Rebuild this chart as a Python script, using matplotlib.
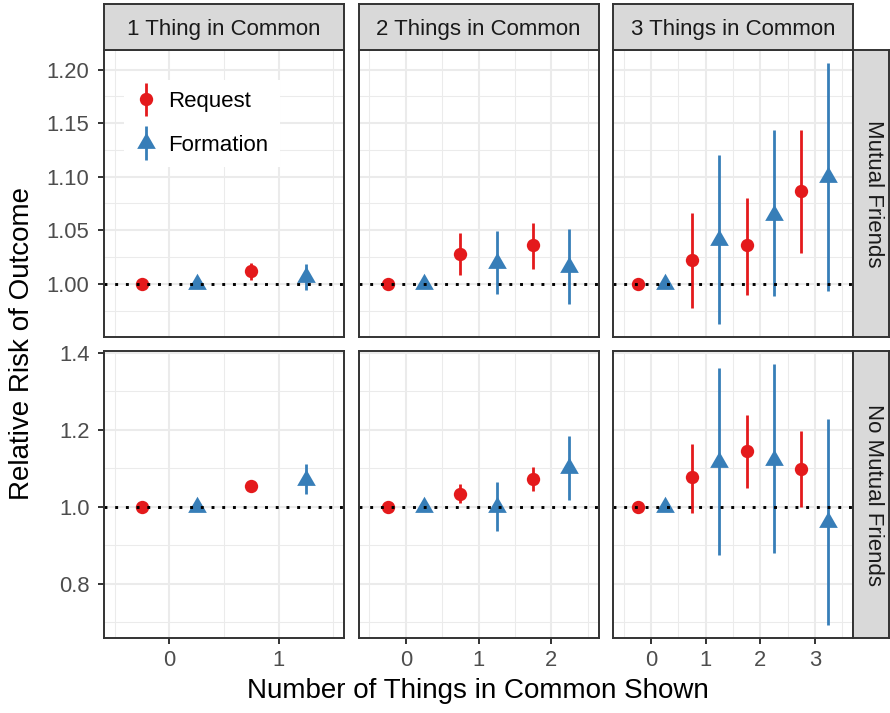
import numpy as np
import matplotlib
matplotlib.use("Agg")
import matplotlib.pyplot as plt
from matplotlib.ticker import FixedLocator, FormatStrFormatter
from matplotlib.container import ErrorbarContainer
from matplotlib.legend_handler import HandlerErrorbar

plt.rcParams['font.family'] = ['Liberation Sans', 'DejaVu Sans']

col_titles = ["1 Thing in Common", "2 Things in Common", "3 Things in Common"]
row_titles = ["Mutual Friends", "No Mutual Friends"]
n_shown = [1, 2, 3]

# Mutual Friends: request (est, low, high) per panel
mf_req_est = [[1.0, 1.012], [1.0, 1.0274, 1.0361], [1.0, 1.0224, 1.0358, 1.0866]]
mf_req_lo = [[1.0, 1.0037], [1.0, 1.0084, 1.0140], [1.0, 0.9778, 0.9894, 1.0283]]
mf_req_hi = [[1.0, 1.0193], [1.0, 1.0474, 1.0566], [1.0, 1.0657, 1.0800, 1.1439]]
# Mutual Friends: formation
mf_form_est = [[1.0, 1.006], [1.0, 1.019, 1.016], [1.0, 1.0407, 1.0647, 1.0997]]
mf_form_lo = [[1.0, 0.9944], [1.0, 0.9903, 0.9813], [1.0, 0.962, 0.9881, 0.9932]]
mf_form_hi = [[1.0, 1.018], [1.0, 1.0489, 1.051], [1.0, 1.1206, 1.1432, 1.2062]]

# No Mutual Friends: request
nmf_req_est = [[1.0, 1.0545], [1.0, 1.0338, 1.0727], [1.0, 1.0763, 1.1455, 1.0987]]
nmf_req_lo = [[1.0, 1.046], [1.0, 1.0088, 1.040], [1.0, 0.9844, 1.0494, 1.0]]
nmf_req_hi = [[1.0, 1.063], [1.0, 1.059, 1.104], [1.0, 1.163, 1.239, 1.197]]
# No Mutual Friends: formation
nmf_form_est = [[1.0, 1.070], [1.0, 1.0, 1.1003], [1.0, 1.115, 1.122, 0.959]]
nmf_form_lo = [[1.0, 1.033], [1.0, 0.9377, 1.0174], [1.0, 0.8738, 0.879, 0.6927]]
nmf_form_hi = [[1.0, 1.110], [1.0, 1.064, 1.1844], [1.0, 1.361, 1.3706, 1.2278]]

row_yticks = [[1.00, 1.05, 1.10, 1.15, 1.20], [0.8, 1.0, 1.2, 1.4]]
row_yminor = [[0.975, 1.025, 1.075, 1.125, 1.175], [0.7, 0.9, 1.1, 1.3]]
row_yfmt = ["%.2f", "%.1f"]

RED = "#E41A1C"
BLUE = "#377EB8"
BORDER = "#333333"
TRI = [(0, 1), (-0.866, -0.5), (0.866, -0.5)]

W, H = 890, 713
fig = plt.figure(figsize=(W / 100, H / 100), dpi=100)


def px(x0, y0, x1, y1):
    return [x0 / W, 1 - y1 / H, (x1 - x0) / W, (y1 - y0) / H]


def strip(box, label, rot):
    sax = fig.add_axes(px(*box))
    sax.set_facecolor("#D9D9D9")
    sax.set_xticks([])
    sax.set_yticks([])
    for s in sax.spines.values():
        s.set_color(BORDER)
        s.set_linewidth(1.4)
    if rot:
        sax.text(0.58, 0.5, label, ha="center", va="center", rotation=-90,
                 fontsize=16, color="#1A1A1A", transform=sax.transAxes)
    else:
        sax.text(0.5, 0.45, label, ha="center", va="center",
                 fontsize=16, color="#1A1A1A", transform=sax.transAxes)


col_x = [(104, 344), (358.5, 598.5), (613, 853)]
row_y = [(50, 337.5), (351, 638)]

rows = [
    (mf_req_est, mf_req_lo, mf_req_hi, mf_form_est, mf_form_lo, mf_form_hi),
    (nmf_req_est, nmf_req_lo, nmf_req_hi, nmf_form_est, nmf_form_lo, nmf_form_hi),
]

for r, data in enumerate(rows):
    req_est, req_lo, req_hi, form_est, form_lo, form_hi = data
    lows = [v for lst in (req_lo + form_lo) for v in lst]
    highs = [v for lst in (req_hi + form_hi) for v in lst]
    span = max(highs) - min(lows)
    ylim = (min(lows) - 0.05 * span, max(highs) + 0.05 * span)
    for c, k in enumerate(n_shown):
        ax = fig.add_axes(px(col_x[c][0], row_y[r][0], col_x[c][1], row_y[r][1]))
        ax.set_facecolor("white")
        x = np.arange(k + 1)
        e = np.array(req_est[c])
        h1 = ax.errorbar(x - 0.25, e, yerr=[e - np.array(req_lo[c]), np.array(req_hi[c]) - e],
                         linestyle="none", marker="o", color=RED, ms=9.6, elinewidth=2.0,
                         capsize=0, mec="none", zorder=3)
        e = np.array(form_est[c])
        h2 = ax.errorbar(x + 0.25, e, yerr=[e - np.array(form_lo[c]), np.array(form_hi[c]) - e],
                         linestyle="none", marker=TRI, color=BLUE, ms=15.5, elinewidth=2.0,
                         capsize=0, mec="none", zorder=3)
        ax.axhline(1.0, color="black", lw=2.1, linestyle=(0, (1, 2.67)), zorder=4)

        span_x = k + 1
        ax.set_xlim(-0.5 - 0.05 * span_x, k + 0.5 + 0.05 * span_x)
        ax.set_ylim(*ylim)
        ax.xaxis.set_major_locator(FixedLocator(list(x)))
        ax.xaxis.set_minor_locator(FixedLocator(list(np.arange(k + 2) - 0.5)))
        ax.yaxis.set_major_locator(FixedLocator(row_yticks[r]))
        ax.yaxis.set_minor_locator(FixedLocator(row_yminor[r]))
        ax.yaxis.set_major_formatter(FormatStrFormatter(row_yfmt[r]))
        ax.grid(which="major", color="#EBEBEB", lw=1.5, zorder=0)
        ax.grid(which="minor", color="#EBEBEB", lw=0.75, zorder=0)
        ax.set_axisbelow(True)
        for s in ax.spines.values():
            s.set_color(BORDER)
            s.set_linewidth(1.4)
            s.set_zorder(5)
        ax.tick_params(which="major", length=4, width=1.4, color=BORDER,
                       labelsize=15.8, labelcolor="#4D4D4D", pad=5)
        ax.tick_params(axis="y", which="major", pad=6.5)
        ax.tick_params(which="minor", length=0)
        if c != 0:
            ax.tick_params(axis="y", which="both", left=False, labelleft=False)
        if r != 1:
            ax.tick_params(axis="x", which="both", bottom=False, labelbottom=False)

        if r == 0 and c == 0:
            ax.legend(handles=[h1, h2], labels=["Request", "Formation"],
                      loc="upper left", bbox_to_anchor=(124 / W, 1 - 80 / H),
                      bbox_transform=fig.transFigure, borderaxespad=0,
                      fontsize=16, frameon=True, facecolor="white", edgecolor="none",
                      framealpha=1, fancybox=False, numpoints=1, handlelength=1.0,
                      handletextpad=0.5, labelspacing=1.02, borderpad=0.5,
                      handler_map={ErrorbarContainer: HandlerErrorbar(xerr_size=0.75)})
        if r == 0:
            strip((col_x[c][0], 4, col_x[c][1], 50), col_titles[c], False)
        if c == 2:
            strip((853, row_y[r][0], 889, row_y[r][1]), row_titles[r], True)

fig.text(22 / W, 1 - 344 / H, "Relative Risk of Outcome", rotation=90,
         ha="center", va="center", fontsize=20)
fig.text(478 / W, 1 - 691 / H, "Number of Things in Common Shown",
         ha="center", va="center", fontsize=20)

fig.savefig("out.png", dpi=100)
